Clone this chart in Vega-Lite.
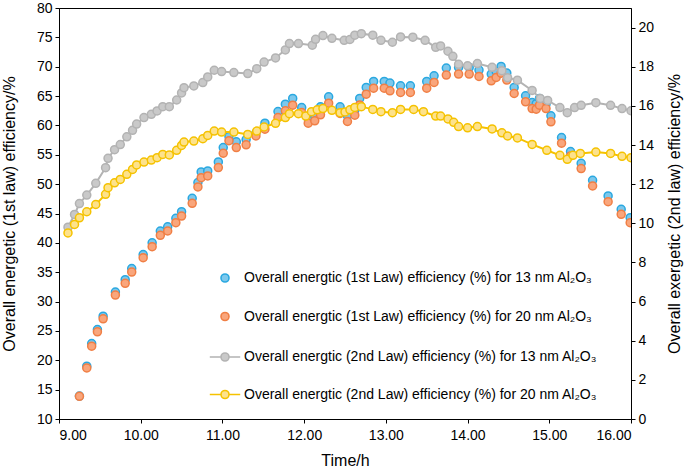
{
  "$schema": "https://vega.github.io/schema/vega-lite/v6.json",
  "width": 572,
  "height": 411,
  "autosize": "none",
  "padding": {"left": 59, "top": 8, "right": 54, "bottom": 51},
  "config": {
    "font": "Liberation Sans",
    "view": {"stroke": "black", "strokeWidth": 1},
    "axis": {
      "domainColor": "black", "tickColor": "black", "labelColor": "black", "titleColor": "black",
      "labelFontSize": 14, "titleFontSize": 16, "titleFontWeight": "normal", "grid": false,
      "tickSize": 4, "labelFont": "Liberation Sans", "titleFont": "Liberation Sans", "labelPadding": 3
    },
    "legend": {
      "orient": "none", "title": null,
      "labelFont": "Liberation Sans", "labelFontSize": 14, "labelColor": "black",
      "symbolSize": 64, "symbolStrokeWidth": 1.6, "labelOffset": 12, "rowPadding": 22.5,
      "labelLimit": 500
    }
  },
  "datasets": {
    "first": [
      {"time": 9.25, "eff": 13.9, "series": "a"},
      {"time": 9.34, "eff": 18.99, "series": "a"},
      {"time": 9.40, "eff": 22.85, "series": "a"},
      {"time": 9.47, "eff": 25.24, "series": "a"},
      {"time": 9.54, "eff": 27.52, "series": "a"},
      {"time": 9.69, "eff": 31.62, "series": "a"},
      {"time": 9.81, "eff": 33.72, "series": "a"},
      {"time": 9.89, "eff": 35.62, "series": "a"},
      {"time": 10.03, "eff": 38.01, "series": "a"},
      {"time": 10.14, "eff": 40.02, "series": "a"},
      {"time": 10.24, "eff": 42.01, "series": "a"},
      {"time": 10.33, "eff": 42.73, "series": "a"},
      {"time": 10.43, "eff": 44.18, "series": "a"},
      {"time": 10.50, "eff": 45.31, "series": "a"},
      {"time": 10.63, "eff": 47.59, "series": "a"},
      {"time": 10.70, "eff": 50.26, "series": "a"},
      {"time": 10.74, "eff": 52.08, "series": "a"},
      {"time": 10.82, "eff": 52.25, "series": "a"},
      {"time": 10.95, "eff": 53.79, "series": "a"},
      {"time": 11.01, "eff": 56.23, "series": "a"},
      {"time": 11.08, "eff": 58.1, "series": "a"},
      {"time": 11.17, "eff": 57.2, "series": "a"},
      {"time": 11.29, "eff": 57.6, "series": "a"},
      {"time": 11.41, "eff": 58.7, "series": "a"},
      {"time": 11.52, "eff": 60.38, "series": "a"},
      {"time": 11.68, "eff": 62.37, "series": "a"},
      {"time": 11.77, "eff": 63.62, "series": "a"},
      {"time": 11.86, "eff": 64.59, "series": "a"},
      {"time": 11.97, "eff": 63.05, "series": "a"},
      {"time": 12.05, "eff": 61.18, "series": "a"},
      {"time": 12.13, "eff": 61.6, "series": "a"},
      {"time": 12.20, "eff": 63.17, "series": "a"},
      {"time": 12.30, "eff": 64.87, "series": "a"},
      {"time": 12.44, "eff": 63.17, "series": "a"},
      {"time": 12.53, "eff": 61.63, "series": "a"},
      {"time": 12.62, "eff": 62.6, "series": "a"},
      {"time": 12.68, "eff": 64.59, "series": "a"},
      {"time": 12.76, "eff": 66.47, "series": "a"},
      {"time": 12.85, "eff": 67.49, "series": "a"},
      {"time": 12.98, "eff": 67.49, "series": "a"},
      {"time": 13.05, "eff": 67.21, "series": "a"},
      {"time": 13.18, "eff": 66.75, "series": "a"},
      {"time": 13.30, "eff": 66.75, "series": "a"},
      {"time": 13.50, "eff": 67.49, "series": "a"},
      {"time": 13.59, "eff": 68.46, "series": "a"},
      {"time": 13.74, "eff": 69.76, "series": "a"},
      {"time": 13.89, "eff": 69.88, "series": "a"},
      {"time": 14.02, "eff": 69.88, "series": "a"},
      {"time": 14.14, "eff": 69.42, "series": "a"},
      {"time": 14.29, "eff": 68.74, "series": "a"},
      {"time": 14.35, "eff": 69.2, "series": "a"},
      {"time": 14.41, "eff": 70.05, "series": "a"},
      {"time": 14.48, "eff": 68.91, "series": "a"},
      {"time": 14.57, "eff": 66.47, "series": "a"},
      {"time": 14.71, "eff": 65.04, "series": "a"},
      {"time": 14.79, "eff": 63.9, "series": "a"},
      {"time": 14.84, "eff": 63.7, "series": "a"},
      {"time": 14.88, "eff": 64.59, "series": "a"},
      {"time": 14.96, "eff": 63.6, "series": "a"},
      {"time": 15.02, "eff": 61.63, "series": "a"},
      {"time": 15.15, "eff": 57.94, "series": "a"},
      {"time": 15.26, "eff": 55.55, "series": "a"},
      {"time": 15.39, "eff": 53.56, "series": "a"},
      {"time": 15.53, "eff": 50.66, "series": "a"},
      {"time": 15.72, "eff": 47.99, "series": "a"},
      {"time": 15.88, "eff": 45.71, "series": "a"},
      {"time": 15.99, "eff": 44.29, "series": "a"},
      {"time": 9.25, "eff": 13.87, "series": "b"},
      {"time": 9.34, "eff": 18.7, "series": "b"},
      {"time": 9.40, "eff": 22.4, "series": "b"},
      {"time": 9.47, "eff": 24.84, "series": "b"},
      {"time": 9.54, "eff": 27.06, "series": "b"},
      {"time": 9.69, "eff": 31.1, "series": "b"},
      {"time": 9.81, "eff": 33.1, "series": "b"},
      {"time": 9.89, "eff": 35.02, "series": "b"},
      {"time": 10.03, "eff": 37.47, "series": "b"},
      {"time": 10.14, "eff": 39.34, "series": "b"},
      {"time": 10.24, "eff": 41.28, "series": "b"},
      {"time": 10.33, "eff": 42.02, "series": "b"},
      {"time": 10.43, "eff": 43.44, "series": "b"},
      {"time": 10.50, "eff": 44.57, "series": "b"},
      {"time": 10.63, "eff": 46.73, "series": "b"},
      {"time": 10.70, "eff": 49.52, "series": "b"},
      {"time": 10.74, "eff": 51.11, "series": "b"},
      {"time": 10.82, "eff": 51.4, "series": "b"},
      {"time": 10.95, "eff": 52.82, "series": "b"},
      {"time": 11.01, "eff": 55.26, "series": "b"},
      {"time": 11.08, "eff": 57.4, "series": "b"},
      {"time": 11.17, "eff": 56.23, "series": "b"},
      {"time": 11.29, "eff": 56.69, "series": "b"},
      {"time": 11.41, "eff": 58.22, "series": "b"},
      {"time": 11.52, "eff": 59.36, "series": "b"},
      {"time": 11.68, "eff": 61.35, "series": "b"},
      {"time": 11.77, "eff": 62.49, "series": "b"},
      {"time": 11.86, "eff": 63.45, "series": "b"},
      {"time": 11.97, "eff": 62.2, "series": "b"},
      {"time": 12.05, "eff": 60.38, "series": "b"},
      {"time": 12.13, "eff": 60.78, "series": "b"},
      {"time": 12.20, "eff": 61.8, "series": "b"},
      {"time": 12.30, "eff": 63.79, "series": "b"},
      {"time": 12.44, "eff": 62.03, "series": "b"},
      {"time": 12.53, "eff": 60.67, "series": "b"},
      {"time": 12.62, "eff": 61.75, "series": "b"},
      {"time": 12.68, "eff": 63.5, "series": "b"},
      {"time": 12.76, "eff": 65.33, "series": "b"},
      {"time": 12.85, "eff": 66.35, "series": "b"},
      {"time": 12.98, "eff": 66.35, "series": "b"},
      {"time": 13.05, "eff": 65.9, "series": "b"},
      {"time": 13.18, "eff": 65.61, "series": "b"},
      {"time": 13.30, "eff": 65.61, "series": "b"},
      {"time": 13.50, "eff": 66.35, "series": "b"},
      {"time": 13.59, "eff": 67.32, "series": "b"},
      {"time": 13.74, "eff": 68.57, "series": "b"},
      {"time": 13.89, "eff": 68.74, "series": "b"},
      {"time": 14.02, "eff": 68.74, "series": "b"},
      {"time": 14.14, "eff": 68.34, "series": "b"},
      {"time": 14.29, "eff": 67.6, "series": "b"},
      {"time": 14.35, "eff": 68.17, "series": "b"},
      {"time": 14.41, "eff": 68.9, "series": "b"},
      {"time": 14.48, "eff": 67.72, "series": "b"},
      {"time": 14.57, "eff": 65.44, "series": "b"},
      {"time": 14.71, "eff": 64.02, "series": "b"},
      {"time": 14.79, "eff": 62.88, "series": "b"},
      {"time": 14.84, "eff": 62.77, "series": "b"},
      {"time": 14.88, "eff": 63.45, "series": "b"},
      {"time": 14.96, "eff": 62.88, "series": "b"},
      {"time": 15.02, "eff": 60.61, "series": "b"},
      {"time": 15.15, "eff": 56.97, "series": "b"},
      {"time": 15.26, "eff": 54.8, "series": "b"},
      {"time": 15.39, "eff": 52.65, "series": "b"},
      {"time": 15.53, "eff": 49.69, "series": "b"},
      {"time": 15.72, "eff": 47.02, "series": "b"},
      {"time": 15.88, "eff": 44.86, "series": "b"},
      {"time": 15.99, "eff": 43.44, "series": "b"}
    ],
    "second": [
      {"time": 9.11, "eff": 9.80, "series": "c"},
      {"time": 9.19, "eff": 10.45, "series": "c"},
      {"time": 9.25, "eff": 11.01, "series": "c"},
      {"time": 9.34, "eff": 11.44, "series": "c"},
      {"time": 9.45, "eff": 12.04, "series": "c"},
      {"time": 9.57, "eff": 12.84, "series": "c"},
      {"time": 9.60, "eff": 13.32, "series": "c"},
      {"time": 9.68, "eff": 13.76, "series": "c"},
      {"time": 9.75, "eff": 14.02, "series": "c"},
      {"time": 9.83, "eff": 14.42, "series": "c"},
      {"time": 9.90, "eff": 14.75, "series": "c"},
      {"time": 9.95, "eff": 15.07, "series": "c"},
      {"time": 10.04, "eff": 15.40, "series": "c"},
      {"time": 10.13, "eff": 15.57, "series": "c"},
      {"time": 10.20, "eff": 15.74, "series": "c"},
      {"time": 10.27, "eff": 15.96, "series": "c"},
      {"time": 10.35, "eff": 15.96, "series": "c"},
      {"time": 10.44, "eff": 16.30, "series": "c"},
      {"time": 10.50, "eff": 16.66, "series": "c"},
      {"time": 10.53, "eff": 16.93, "series": "c"},
      {"time": 10.65, "eff": 17.02, "series": "c"},
      {"time": 10.76, "eff": 17.19, "series": "c"},
      {"time": 10.82, "eff": 17.48, "series": "c"},
      {"time": 10.90, "eff": 17.82, "series": "c"},
      {"time": 10.99, "eff": 17.75, "series": "c"},
      {"time": 11.14, "eff": 17.70, "series": "c"},
      {"time": 11.31, "eff": 17.65, "series": "c"},
      {"time": 11.42, "eff": 17.90, "series": "c"},
      {"time": 11.51, "eff": 18.24, "series": "c"},
      {"time": 11.65, "eff": 18.45, "series": "c"},
      {"time": 11.77, "eff": 18.86, "series": "c"},
      {"time": 11.82, "eff": 19.18, "series": "c"},
      {"time": 11.93, "eff": 19.18, "series": "c"},
      {"time": 12.10, "eff": 19.10, "series": "c"},
      {"time": 12.14, "eff": 19.40, "series": "c"},
      {"time": 12.23, "eff": 19.59, "series": "c"},
      {"time": 12.34, "eff": 19.45, "series": "c"},
      {"time": 12.49, "eff": 19.35, "series": "c"},
      {"time": 12.56, "eff": 19.39, "series": "c"},
      {"time": 12.62, "eff": 19.61, "series": "c"},
      {"time": 12.70, "eff": 19.69, "series": "c"},
      {"time": 12.84, "eff": 19.61, "series": "c"},
      {"time": 12.94, "eff": 19.35, "series": "c"},
      {"time": 13.08, "eff": 19.25, "series": "c"},
      {"time": 13.18, "eff": 19.52, "series": "c"},
      {"time": 13.33, "eff": 19.51, "series": "c"},
      {"time": 13.48, "eff": 19.35, "series": "c"},
      {"time": 13.61, "eff": 18.99, "series": "c"},
      {"time": 13.67, "eff": 19.06, "series": "c"},
      {"time": 13.76, "eff": 18.79, "series": "c"},
      {"time": 13.82, "eff": 18.53, "series": "c"},
      {"time": 13.89, "eff": 18.12, "series": "c"},
      {"time": 14.00, "eff": 18.05, "series": "c"},
      {"time": 14.12, "eff": 18.16, "series": "c"},
      {"time": 14.30, "eff": 17.97, "series": "c"},
      {"time": 14.42, "eff": 17.80, "series": "c"},
      {"time": 14.49, "eff": 17.44, "series": "c"},
      {"time": 14.61, "eff": 17.31, "series": "c"},
      {"time": 14.79, "eff": 16.79, "series": "c"},
      {"time": 14.89, "eff": 16.37, "series": "c"},
      {"time": 14.98, "eff": 16.28, "series": "c"},
      {"time": 15.13, "eff": 15.91, "series": "c"},
      {"time": 15.22, "eff": 15.65, "series": "c"},
      {"time": 15.31, "eff": 15.91, "series": "c"},
      {"time": 15.39, "eff": 16.03, "series": "c"},
      {"time": 15.57, "eff": 16.16, "series": "c"},
      {"time": 15.75, "eff": 16.03, "series": "c"},
      {"time": 15.89, "eff": 15.86, "series": "c"},
      {"time": 16.00, "eff": 15.75, "series": "c"},
      {"time": 9.11, "eff": 9.51, "series": "d"},
      {"time": 9.19, "eff": 9.94, "series": "d"},
      {"time": 9.25, "eff": 10.28, "series": "d"},
      {"time": 9.34, "eff": 10.59, "series": "d"},
      {"time": 9.45, "eff": 10.96, "series": "d"},
      {"time": 9.57, "eff": 11.48, "series": "d"},
      {"time": 9.60, "eff": 11.82, "series": "d"},
      {"time": 9.68, "eff": 12.07, "series": "d"},
      {"time": 9.75, "eff": 12.24, "series": "d"},
      {"time": 9.83, "eff": 12.50, "series": "d"},
      {"time": 9.90, "eff": 12.75, "series": "d"},
      {"time": 9.95, "eff": 12.98, "series": "d"},
      {"time": 10.04, "eff": 13.13, "series": "d"},
      {"time": 10.13, "eff": 13.23, "series": "d"},
      {"time": 10.20, "eff": 13.35, "series": "d"},
      {"time": 10.27, "eff": 13.52, "series": "d"},
      {"time": 10.35, "eff": 13.49, "series": "d"},
      {"time": 10.44, "eff": 13.73, "series": "d"},
      {"time": 10.50, "eff": 13.98, "series": "d"},
      {"time": 10.53, "eff": 14.15, "series": "d"},
      {"time": 10.65, "eff": 14.20, "series": "d"},
      {"time": 10.76, "eff": 14.32, "series": "d"},
      {"time": 10.82, "eff": 14.49, "series": "d"},
      {"time": 10.90, "eff": 14.71, "series": "d"},
      {"time": 10.99, "eff": 14.66, "series": "d"},
      {"time": 11.14, "eff": 14.66, "series": "d"},
      {"time": 11.31, "eff": 14.54, "series": "d"},
      {"time": 11.42, "eff": 14.71, "series": "d"},
      {"time": 11.51, "eff": 14.92, "series": "d"},
      {"time": 11.65, "eff": 15.11, "series": "d"},
      {"time": 11.77, "eff": 15.40, "series": "d"},
      {"time": 11.82, "eff": 15.60, "series": "d"},
      {"time": 11.93, "eff": 15.60, "series": "d"},
      {"time": 12.02, "eff": 15.48, "series": "d"},
      {"time": 12.09, "eff": 15.70, "series": "d"},
      {"time": 12.16, "eff": 15.80, "series": "d"},
      {"time": 12.23, "eff": 15.86, "series": "d"},
      {"time": 12.34, "eff": 15.77, "series": "d"},
      {"time": 12.44, "eff": 15.65, "series": "d"},
      {"time": 12.50, "eff": 15.69, "series": "d"},
      {"time": 12.56, "eff": 15.80, "series": "d"},
      {"time": 12.62, "eff": 15.92, "series": "d"},
      {"time": 12.70, "eff": 15.96, "series": "d"},
      {"time": 12.84, "eff": 15.82, "series": "d"},
      {"time": 12.94, "eff": 15.70, "series": "d"},
      {"time": 13.08, "eff": 15.65, "series": "d"},
      {"time": 13.18, "eff": 15.82, "series": "d"},
      {"time": 13.34, "eff": 15.82, "series": "d"},
      {"time": 13.46, "eff": 15.70, "series": "d"},
      {"time": 13.61, "eff": 15.48, "series": "d"},
      {"time": 13.67, "eff": 15.48, "series": "d"},
      {"time": 13.76, "eff": 15.33, "series": "d"},
      {"time": 13.83, "eff": 15.16, "series": "d"},
      {"time": 13.89, "eff": 14.94, "series": "d"},
      {"time": 14.00, "eff": 14.88, "series": "d"},
      {"time": 14.12, "eff": 14.94, "series": "d"},
      {"time": 14.30, "eff": 14.82, "series": "d"},
      {"time": 14.42, "eff": 14.62, "series": "d"},
      {"time": 14.49, "eff": 14.46, "series": "d"},
      {"time": 14.61, "eff": 14.36, "series": "d"},
      {"time": 14.79, "eff": 14.03, "series": "d"},
      {"time": 14.97, "eff": 13.73, "series": "d"},
      {"time": 15.13, "eff": 13.47, "series": "d"},
      {"time": 15.22, "eff": 13.27, "series": "d"},
      {"time": 15.29, "eff": 13.47, "series": "d"},
      {"time": 15.38, "eff": 13.57, "series": "d"},
      {"time": 15.57, "eff": 13.64, "series": "d"},
      {"time": 15.75, "eff": 13.57, "series": "d"},
      {"time": 15.89, "eff": 13.42, "series": "d"},
      {"time": 16.00, "eff": 13.35, "series": "d"}
    ]
  },
  "layer": [
    {
      "data": {"name": "first"},
      "mark": {"type": "point", "filled": true, "size": 64, "strokeWidth": 1.5, "opacity": 1, "clip": true},
      "encoding": {
        "x": {
          "field": "time", "type": "quantitative",
          "scale": {"domain": [9, 16], "nice": false, "zero": false},
          "axis": {"values": [9, 10, 11, 12, 13, 14, 15, 16], "format": ".2f", "title": "Time/h", "titlePadding": 10, "labelPadding": 5}
        },
        "y": {
          "field": "eff", "type": "quantitative",
          "scale": {"domain": [10, 80], "nice": false, "zero": false},
          "axis": {"values": [10, 15, 20, 25, 30, 35, 40, 45, 50, 55, 60, 65, 70, 75, 80], "title": "Overall energetic (1st law) efficiency/%", "titlePadding": 19}
        },
        "fill": {
          "field": "series", "type": "nominal",
          "scale": {"domain": ["a", "b"], "range": ["#7dc8ec", "#f9a67c"]},
          "legend": {
            "legendX": 159, "legendY": 263, "symbolType": "circle",
            "labelExpr": "datum.value == 'a' ? 'Overall energtic (1st Law) efficiency (%) for 13 nm Al₂O₃' : 'Overall energtic (1st Law) efficiency (%) for 20 nm Al₂O₃'"
          }
        },
        "stroke": {
          "field": "series", "type": "nominal",
          "scale": {"domain": ["a", "b"], "range": ["#2aa8e0", "#f07f45"]},
          "legend": null
        }
      }
    },
    {
      "data": {"name": "second"},
      "mark": {"type": "line", "strokeWidth": 2, "clip": true},
      "encoding": {
        "x": {"field": "time", "type": "quantitative"},
        "y": {
          "field": "eff", "type": "quantitative",
          "scale": {"domain": [0, 21], "nice": false, "zero": false},
          "axis": {"orient": "right", "values": [0, 2, 4, 6, 8, 10, 12, 14, 16, 18, 20], "title": "Overall exergetic (2nd law) efficiency/%", "titleAngle": 270, "titleBaseline": "top", "titlePadding": 13}
        },
        "stroke": {
          "field": "series", "type": "nominal",
          "scale": {"domain": ["c", "d"], "range": ["#b3b3b3", "#f5c200"]},
          "legend": null
        }
      }
    },
    {
      "data": {"name": "second"},
      "mark": {"type": "point", "filled": true, "size": 64, "strokeWidth": 1.5, "opacity": 1, "clip": true},
      "encoding": {
        "x": {"field": "time", "type": "quantitative"},
        "y": {
          "field": "eff", "type": "quantitative",
          "scale": {"domain": [0, 21], "nice": false, "zero": false},
          "axis": null
        },
        "fill": {
          "field": "series", "type": "nominal",
          "scale": {"domain": ["c", "d"], "range": ["#c9c9c9", "#fde28c"]},
          "legend": {
            "legendX": 159, "legendY": 342, "rowPadding": 21.5,
            "symbolType": "M-3.8,0L-1,0M1,0L3.8,0M-1,0A1,1,0,1,1,1,0A1,1,0,1,1,-1,0",
            "labelExpr": "datum.value == 'c' ? 'Overall energtic (2nd Law) efficiency (%) for 13 nm Al₂O₃' : 'Overall energtic (2nd Law) efficiency (%) for 20 nm Al₂O₃'"
          }
        },
        "stroke": {
          "field": "series", "type": "nominal",
          "scale": {"domain": ["c", "d"], "range": ["#b3b3b3", "#f5c200"]},
          "legend": null
        }
      }
    }
  ],
  "resolve": {
    "scale": {"y": "independent", "fill": "independent", "stroke": "independent"},
    "legend": {"fill": "independent", "stroke": "independent"}
  }
}
